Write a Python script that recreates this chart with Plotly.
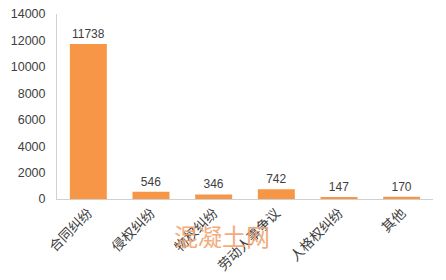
import plotly.graph_objects as go

categories = ["合同纠纷", "侵权纠纷", "物权纠纷", "劳动人事争议", "人格权纠纷", "其他"]
values = [11738, 546, 346, 742, 147, 170]
y_ticks = [0, 2000, 4000, 6000, 8000, 10000, 12000, 14000]

fig = go.Figure(go.Bar(
    x=categories, y=values,
    marker=dict(color="#F79646", line=dict(width=0)),
    text=[str(v) for v in values], textposition="outside",
    textfont=dict(size=12, color="#404040", family="Liberation Sans"),
    cliponaxis=False,
))

fig.update_layout(
    width=446, height=280,
    margin=dict(l=57, r=13, t=14, b=81, autoexpand=False),
    paper_bgcolor="white", plot_bgcolor="white",
    bargap=0.41, showlegend=False,
    font=dict(family="Liberation Sans, Noto Sans CJK SC", color="#404040", size=12),
    annotations=[dict(
        text="混凝土网", x=0.439, y=-0.09, xref="paper", yref="paper",
        xanchor="center", yanchor="top", showarrow=False,
        font=dict(size=24, color="#F2A470", family="Noto Sans CJK SC"),
        opacity=0.9,
    )],
)
fig.update_xaxes(
    showline=True, linecolor="#D0D0D0", linewidth=1, automargin=False,
    tickangle=-45, ticks="", showgrid=False,
    tickfont=dict(size=13.5, family="Noto Sans CJK SC", color="#404040"),
)
fig.update_yaxes(
    range=[0, 14000], tickvals=y_ticks, ticktext=[str(t) for t in y_ticks],
    showline=True, linecolor="#D0D0D0", linewidth=1, automargin=False,
    showgrid=False, zeroline=False, ticks="", ticklabelstandoff=8,
    tickfont=dict(size=12.5, family="Liberation Sans", color="#404040"),
)

fig.write_html("out.html")
